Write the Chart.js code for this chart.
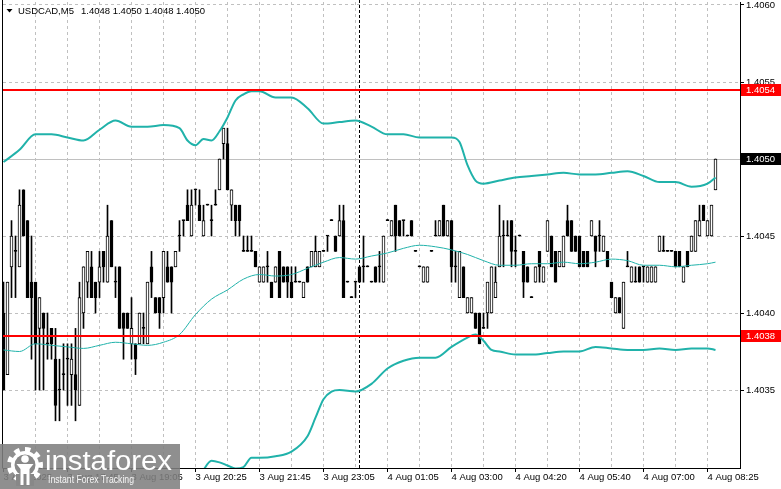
<!DOCTYPE html>
<html>
<head>
<meta charset="utf-8">
<title>USDCAD,M5</title>
<script src="https://cdn.jsdelivr.net/npm/chart.js@4.4.0/dist/chart.umd.min.js"></script>
<style>
  html, body { margin: 0; padding: 0; background: #fff; }
  #chart { display: block; }
</style>
</head>
<body>
<canvas id="chart" width="781" height="489"></canvas>
<script>
// USDCAD M5 - candles (prices move in whole pips)
const symbol = 'USDCAD,M5';
const lastQuote = ['1.4048', '1.4050', '1.4048', '1.4050'];

const opens = [
  1.4040, 1.4036, 1.4043, 1.4044, 1.4043, 1.4048, 1.4046, 1.4042, 1.4042, 1.4039,
  1.4040, 1.4038, 1.4039, 1.4037, 1.4035, 1.4036, 1.4037, 1.4036, 1.4036, 1.4034,
  1.4040, 1.4042, 1.4043, 1.4042, 1.4042, 1.4044, 1.4042, 1.4046, 1.4042, 1.4043,
  1.4040, 1.4040, 1.4038, 1.4038, 1.4038, 1.4039, 1.4038, 1.4043, 1.4041, 1.4041,
  1.4041, 1.4043, 1.4043, 1.4043, 1.4045, 1.4046, 1.4047, 1.4045, 1.4048, 1.4047,
  1.4045, 1.4047, 1.4046, 1.4047, 1.4048, 1.4051, 1.4051, 1.4047, 1.4047, 1.4047,
  1.4044, 1.4044, 1.4044, 1.4044, 1.4042, 1.4042, 1.4043, 1.4042, 1.4042, 1.4044,
  1.4043, 1.4043, 1.4042, 1.4042, 1.4042, 1.4041, 1.4043, 1.4043, 1.4043, 1.4043,
  1.4044, 1.4045, 1.4046, 1.4045, 1.4045, 1.4046, 1.4042, 1.4041, 1.4042, 1.4043,
  1.4043, 1.4043, 1.4042, 1.4043, 1.4043, 1.4042, 1.4046, 1.4045, 1.4047, 1.4046,
  1.4046, 1.4045, 1.4046, 1.4044, 1.4043, 1.4042, 1.4042, 1.4044, 1.4045, 1.4045,
  1.4047, 1.4045, 1.4046, 1.4043, 1.4041, 1.4043, 1.4040, 1.4040, 1.4040, 1.4040,
  1.4039, 1.4040, 1.4040, 1.4041, 1.4043, 1.4045, 1.4045, 1.4046, 1.4044, 1.4045,
  1.4044, 1.4043, 1.4041, 1.4042, 1.4044, 1.4042, 1.4044, 1.4045, 1.4044, 1.4043,
  1.4043, 1.4046, 1.4046, 1.4045, 1.4045, 1.4044, 1.4044, 1.4045, 1.4045, 1.4045,
  1.4044, 1.4044, 1.4042, 1.4040, 1.4041, 1.4039, 1.4043, 1.4042, 1.4042, 1.4043,
  1.4043, 1.4042, 1.4042, 1.4042, 1.4044, 1.4044, 1.4044, 1.4044, 1.4044, 1.4044,
  1.4042, 1.4044, 1.4044, 1.4044, 1.4045, 1.4047, 1.4045, 1.4045, 1.4048
];
const highs = [
  1.4042, 1.4042, 1.4046, 1.4045, 1.4048, 1.4048, 1.4046, 1.4045, 1.4042, 1.4041,
  1.4040, 1.4040, 1.4039, 1.4039, 1.4037, 1.4038, 1.4038, 1.4038, 1.4039, 1.4042,
  1.4043, 1.4044, 1.4044, 1.4042, 1.4044, 1.4044, 1.4047, 1.4046, 1.4043, 1.4043,
  1.4040, 1.4040, 1.4041, 1.4038, 1.4040, 1.4040, 1.4042, 1.4044, 1.4041, 1.4041,
  1.4044, 1.4044, 1.4043, 1.4044, 1.4046, 1.4046, 1.4048, 1.4048, 1.4048, 1.4048,
  1.4047, 1.4047, 1.4047, 1.4048, 1.4050, 1.4052, 1.4052, 1.4048, 1.4047, 1.4047,
  1.4045, 1.4045, 1.4045, 1.4044, 1.4043, 1.4043, 1.4044, 1.4042, 1.4043, 1.4044,
  1.4043, 1.4043, 1.4043, 1.4043, 1.4042, 1.4042, 1.4043, 1.4044, 1.4045, 1.4044,
  1.4044, 1.4045, 1.4046, 1.4045, 1.4047, 1.4047, 1.4042, 1.4041, 1.4042, 1.4043,
  1.4045, 1.4043, 1.4042, 1.4043, 1.4044, 1.4045, 1.4046, 1.4046, 1.4047, 1.4046,
  1.4046, 1.4045, 1.4046, 1.4044, 1.4043, 1.4043, 1.4043, 1.4044, 1.4046, 1.4046,
  1.4047, 1.4046, 1.4046, 1.4044, 1.4044, 1.4043, 1.4041, 1.4041, 1.4040, 1.4040,
  1.4040, 1.4042, 1.4043, 1.4043, 1.4047, 1.4046, 1.4046, 1.4046, 1.4045, 1.4045,
  1.4044, 1.4043, 1.4041, 1.4043, 1.4044, 1.4043, 1.4046, 1.4045, 1.4044, 1.4044,
  1.4045, 1.4047, 1.4046, 1.4045, 1.4045, 1.4044, 1.4044, 1.4046, 1.4045, 1.4046,
  1.4045, 1.4044, 1.4042, 1.4041, 1.4041, 1.4042, 1.4044, 1.4043, 1.4043, 1.4043,
  1.4043, 1.4043, 1.4043, 1.4043, 1.4045, 1.4045, 1.4044, 1.4044, 1.4044, 1.4044,
  1.4043, 1.4044, 1.4045, 1.4046, 1.4047, 1.4047, 1.4046, 1.4047, 1.4050
];
const lows = [
  1.4035, 1.4036, 1.4041, 1.4041, 1.4043, 1.4045, 1.4041, 1.4037, 1.4035, 1.4035,
  1.4035, 1.4037, 1.4037, 1.4033, 1.4033, 1.4035, 1.4034, 1.4034, 1.4033, 1.4034,
  1.4039, 1.4041, 1.4041, 1.4040, 1.4041, 1.4042, 1.4042, 1.4043, 1.4041, 1.4039,
  1.4037, 1.4039, 1.4037, 1.4036, 1.4038, 1.4038, 1.4038, 1.4041, 1.4040, 1.4039,
  1.4040, 1.4042, 1.4040, 1.4043, 1.4044, 1.4045, 1.4046, 1.4045, 1.4047, 1.4046,
  1.4045, 1.4047, 1.4045, 1.4047, 1.4048, 1.4050, 1.4048, 1.4046, 1.4045, 1.4045,
  1.4044, 1.4044, 1.4044, 1.4043, 1.4042, 1.4042, 1.4042, 1.4041, 1.4042, 1.4041,
  1.4042, 1.4041, 1.4041, 1.4042, 1.4042, 1.4041, 1.4042, 1.4043, 1.4043, 1.4043,
  1.4044, 1.4044, 1.4046, 1.4044, 1.4045, 1.4041, 1.4042, 1.4041, 1.4041, 1.4042,
  1.4042, 1.4043, 1.4042, 1.4042, 1.4042, 1.4042, 1.4046, 1.4045, 1.4044, 1.4045,
  1.4045, 1.4045, 1.4045, 1.4044, 1.4043, 1.4042, 1.4042, 1.4044, 1.4045, 1.4045,
  1.4045, 1.4045, 1.4042, 1.4042, 1.4041, 1.4041, 1.4040, 1.4040, 1.4039, 1.4038,
  1.4039, 1.4039, 1.4040, 1.4041, 1.4043, 1.4043, 1.4045, 1.4043, 1.4043, 1.4045,
  1.4041, 1.4042, 1.4041, 1.4042, 1.4042, 1.4042, 1.4044, 1.4043, 1.4042, 1.4043,
  1.4043, 1.4045, 1.4044, 1.4044, 1.4043, 1.4043, 1.4043, 1.4045, 1.4043, 1.4044,
  1.4044, 1.4043, 1.4041, 1.4040, 1.4040, 1.4039, 1.4043, 1.4042, 1.4042, 1.4042,
  1.4042, 1.4042, 1.4042, 1.4042, 1.4044, 1.4044, 1.4044, 1.4044, 1.4043, 1.4043,
  1.4042, 1.4043, 1.4044, 1.4044, 1.4045, 1.4046, 1.4045, 1.4045, 1.4048
];
const closes = [
  1.4035, 1.4042, 1.4045, 1.4044, 1.4047, 1.4045, 1.4041, 1.4041, 1.4038, 1.4041,
  1.4039, 1.4038, 1.4038, 1.4034, 1.4035, 1.4036, 1.4037, 1.4037, 1.4035, 1.4041,
  1.4043, 1.4044, 1.4041, 1.4041, 1.4043, 1.4043, 1.4045, 1.4043, 1.4042, 1.4039,
  1.4039, 1.4039, 1.4039, 1.4037, 1.4040, 1.4039, 1.4042, 1.4042, 1.4040, 1.4040,
  1.4044, 1.4042, 1.4042, 1.4044, 1.4045, 1.4046, 1.4046, 1.4047, 1.4048, 1.4046,
  1.4046, 1.4047, 1.4046, 1.4047, 1.4050, 1.4052, 1.4048, 1.4048, 1.4046, 1.4046,
  1.4044, 1.4044, 1.4044, 1.4043, 1.4043, 1.4043, 1.4043, 1.4041, 1.4043, 1.4041,
  1.4042, 1.4042, 1.4041, 1.4042, 1.4042, 1.4042, 1.4042, 1.4044, 1.4044, 1.4044,
  1.4044, 1.4045, 1.4046, 1.4044, 1.4046, 1.4041, 1.4042, 1.4041, 1.4042, 1.4042,
  1.4043, 1.4043, 1.4042, 1.4042, 1.4043, 1.4045, 1.4046, 1.4046, 1.4045, 1.4045,
  1.4046, 1.4045, 1.4045, 1.4044, 1.4043, 1.4043, 1.4043, 1.4044, 1.4045, 1.4046,
  1.4045, 1.4046, 1.4043, 1.4043, 1.4044, 1.4041, 1.4041, 1.4041, 1.4039, 1.4038,
  1.4039, 1.4042, 1.4043, 1.4042, 1.4045, 1.4045, 1.4045, 1.4044, 1.4044, 1.4045,
  1.4042, 1.4042, 1.4041, 1.4043, 1.4043, 1.4043, 1.4046, 1.4043, 1.4042, 1.4044,
  1.4045, 1.4045, 1.4044, 1.4044, 1.4043, 1.4043, 1.4043, 1.4046, 1.4044, 1.4045,
  1.4045, 1.4043, 1.4041, 1.4041, 1.4040, 1.4042, 1.4043, 1.4043, 1.4042, 1.4042,
  1.4043, 1.4043, 1.4043, 1.4043, 1.4045, 1.4044, 1.4044, 1.4044, 1.4043, 1.4043,
  1.4043, 1.4043, 1.4045, 1.4046, 1.4046, 1.4046, 1.4046, 1.4047, 1.4050
];

// Bollinger bands, sampled along the bars (bar index -> price)
const upperBars = [0, 4, 8, 12, 16, 20, 24, 28, 32, 36, 40, 44, 46, 48, 50, 52, 54, 56, 58, 60,
  62, 64, 68, 72, 76, 80, 84, 88, 92, 96, 100, 104, 108, 112, 114, 116, 118, 120, 124, 128,
  132, 136, 140, 144, 148, 152, 156, 160, 164, 168, 172, 176, 178];
const upperBand = [1.40498, 1.40506, 1.40516, 1.40516, 1.40514, 1.40512, 1.40519, 1.40525, 1.40521, 1.40521,
  1.40522, 1.40520, 1.40512, 1.40509, 1.40513, 1.40512, 1.40518, 1.40527, 1.40538, 1.40542,
  1.40544, 1.40544, 1.40540, 1.40540, 1.40533, 1.40523, 1.40524, 1.40525, 1.40521, 1.40516,
  1.40516, 1.40514, 1.40514, 1.40514, 1.40511, 1.40496, 1.40486, 1.40484, 1.40486, 1.40488,
  1.40489, 1.40490, 1.40491, 1.40490, 1.40490, 1.40491, 1.40492, 1.40489, 1.40485, 1.40485,
  1.40482, 1.40484, 1.40488];

const middleBars = [0, 4, 8, 12, 16, 20, 24, 28, 32, 36, 40, 44, 48, 52, 56, 60, 64, 68, 72, 76,
  80, 84, 88, 92, 96, 100, 104, 108, 112, 116, 120, 124, 128, 132, 136, 140, 144, 148, 152, 156,
  160, 164, 168, 172, 176, 178];
const middleBand = [1.40376, 1.40375, 1.40380, 1.40379, 1.40378, 1.40377, 1.40379, 1.40381, 1.40380, 1.40379,
  1.40381, 1.40386, 1.40399, 1.40409, 1.40415, 1.40422, 1.40425, 1.40424, 1.40425, 1.40429,
  1.40433, 1.40436, 1.40435, 1.40437, 1.40439, 1.40442, 1.40444, 1.40443, 1.40441, 1.40438,
  1.40434, 1.40431, 1.40431, 1.40432, 1.40432, 1.40433, 1.40432, 1.40433, 1.40435, 1.40434,
  1.40431, 1.40431, 1.40430, 1.40431, 1.40432, 1.40433];

const lowerBars = [0, 4, 8, 12, 16, 20, 24, 28, 32, 36, 40, 44, 46, 48, 50, 52, 54, 56, 58, 60,
  62, 64, 68, 72, 76, 78, 80, 82, 84, 88, 92, 96, 100, 104, 108, 112, 116, 118, 120, 122,
  124, 128, 132, 136, 140, 144, 148, 152, 156, 160, 164, 168, 172, 176, 178];
const lowerBand = [1.40254, 1.40244, 1.40244, 1.40243, 1.40242, 1.40243, 1.40240, 1.40236, 1.40238, 1.40236,
  1.40239, 1.40253, 1.40272, 1.40288, 1.40298, 1.40304, 1.40303, 1.40301, 1.40299, 1.40300,
  1.40306, 1.40306, 1.40307, 1.40310, 1.40320, 1.40332, 1.40344, 1.40349, 1.40350, 1.40349,
  1.40354, 1.40364, 1.40369, 1.40371, 1.40371, 1.40378, 1.40384, 1.40386, 1.40382, 1.40376,
  1.40375, 1.40373, 1.40373, 1.40374, 1.40375, 1.40375, 1.40378, 1.40377, 1.40376, 1.40376,
  1.40377, 1.40376, 1.40377, 1.40377, 1.40376];

// axis text
const timeLabels = ['3 Aug 2025', '3 Aug 17:45', '3 Aug 19:05', '3 Aug 20:25', '3 Aug 21:45', '3 Aug 23:05',
  '4 Aug 01:05', '4 Aug 03:00', '4 Aug 04:20', '4 Aug 05:40', '4 Aug 07:00', '4 Aug 08:25'];
const barsPerLabel = 16;
const barsPerGrid = 8;
const priceTicks = [1.4035, 1.4040, 1.4045, 1.4050, 1.4055, 1.4060];

// levels drawn on the chart
const levelValues = [1.40545, 1.40385];
const levelLabels = ['1.4054', '1.4038'];
const currentPrice = 1.4050;
const daySeparator = 89;

const TEAL = '#20b2aa';
const FONT = '"Liberation Sans", Arial, sans-serif';

const idx = opens.map((_, i) => i);
const wickData = idx.map(i => ({ x: i, y: [lows[i], highs[i]] }));
const bodyData = idx.map(i => ({ x: i, y: [opens[i], closes[i]] }));
const bodyFill = idx.map(i => closes[i] > opens[i] ? '#ffffff' : '#000000');
const toPoints = (bars, vals) => bars.map((b, i) => ({ x: b, y: vals[i] }));

// no label overhang padding, the frame is fixed like the terminal's
const noPad = s => { s.paddingTop = 0; s.paddingBottom = 0; s.paddingLeft = 0; s.paddingRight = 0; };

function drawGear(ctx, cx, cy, rOut, rIn, teeth) {
  const step = Math.PI / teeth;
  ctx.beginPath();
  for (let i = 0; i < teeth * 2; i++) {
    const r = i % 2 === 0 ? rOut : rIn;
    ctx.arc(cx, cy, r, i * step - Math.PI / 2, (i + 1) * step - Math.PI / 2);
  }
  ctx.closePath();
  ctx.fill();
}

const overlays = {
  id: 'overlays',
  beforeDatasetsDraw(chart) {
    const { ctx, chartArea: a, scales: { x, y } } = chart;
    ctx.save();
    ctx.lineWidth = 1;
    // bid line
    const py = Math.floor(y.getPixelForValue(currentPrice)) + 0.5;
    ctx.strokeStyle = '#c0c0c0';
    ctx.beginPath(); ctx.moveTo(a.left, py); ctx.lineTo(a.right, py); ctx.stroke();
    // period separator
    const sx = Math.floor(x.getPixelForValue(daySeparator)) + 0.5;
    ctx.strokeStyle = '#000';
    ctx.setLineDash([3, 2]);
    ctx.beginPath(); ctx.moveTo(sx, 0); ctx.lineTo(sx, a.bottom); ctx.stroke();
    ctx.restore();
  },
  afterDatasetsDraw(chart) {
    const { ctx, chartArea: a, scales: { y } } = chart;
    ctx.save();
    ctx.strokeStyle = '#ff0000';
    ctx.lineWidth = 2;
    levelValues.forEach(v => {
      const py = Math.round(y.getPixelForValue(v));
      ctx.beginPath(); ctx.moveTo(a.left, py); ctx.lineTo(a.right, py); ctx.stroke();
    });
    ctx.restore();
  },
  afterDraw(chart) {
    const { ctx, chartArea: a, scales: { y } } = chart;
    ctx.save();
    // left frame line
    ctx.strokeStyle = '#000';
    ctx.lineWidth = 1;
    ctx.beginPath(); ctx.moveTo(a.left - 0.5, 0); ctx.lineTo(a.left - 0.5, a.bottom + 0.5); ctx.stroke();

    // price tags on the right scale
    ctx.font = '9.5px ' + FONT;
    ctx.textBaseline = 'middle';
    const tag = (v, text, fill) => {
      const py = Math.round(y.getPixelForValue(v));
      ctx.fillStyle = fill;
      ctx.fillRect(a.right + 1, py - 6, chart.width - a.right - 1, 12);
      ctx.fillStyle = '#ffffff';
      ctx.fillText(text, a.right + 6, py + 0.5);
    };
    levelValues.forEach((v, i) => tag(v, levelLabels[i], '#ff0000'));
    tag(currentPrice, currentPrice.toFixed(4), '#000000');

    // header
    ctx.fillStyle = '#000';
    ctx.beginPath(); ctx.moveTo(6.5, 9); ctx.lineTo(12.5, 9); ctx.lineTo(9.5, 12.5); ctx.closePath(); ctx.fill();
    ctx.fillText(symbol, 18, 11);
    ctx.fillText(lastQuote.join(' '), 81, 11);

    // watermark
    ctx.fillStyle = 'rgba(128,128,128,0.88)';
    ctx.fillRect(0, 444, 180, 45);
    ctx.fillStyle = '#ffffff';
    drawGear(ctx, 25, 465, 18, 14, 9);
    ctx.fillStyle = 'rgb(136,136,136)';
    ctx.beginPath(); ctx.arc(25, 465, 10.5, 0, Math.PI * 2); ctx.fill();
    ctx.fillRect(16, 474, 18, 12);
    ctx.fillStyle = '#ffffff';
    ctx.beginPath(); ctx.arc(25, 459, 3.8, 0, Math.PI * 2); ctx.fill();
    ctx.beginPath();
    ctx.moveTo(16.5, 464); ctx.lineTo(33.5, 464); ctx.lineTo(29.5, 469); ctx.lineTo(29.5, 485);
    ctx.lineTo(26.5, 485); ctx.lineTo(26.5, 474); ctx.lineTo(23.5, 474); ctx.lineTo(23.5, 485);
    ctx.lineTo(20.5, 485); ctx.lineTo(20.5, 469); ctx.closePath(); ctx.fill();

    ctx.textBaseline = 'alphabetic';
    ctx.font = '27px ' + FONT;
    const w1 = ctx.measureText('instaforex').width;
    ctx.save();
    ctx.translate(45, 470);
    ctx.scale(127 / w1, 1);
    ctx.fillText('instaforex', 0, 0);
    ctx.restore();
    ctx.font = '10.5px ' + FONT;
    ctx.fillStyle = 'rgba(255,255,255,0.92)';
    const w2 = ctx.measureText('Instant Forex Tracking').width;
    ctx.save();
    ctx.translate(48, 482.5);
    ctx.scale(86 / w2, 1);
    ctx.fillText('Instant Forex Tracking', 0, 0);
    ctx.restore();
    ctx.restore();
  }
};

new Chart(document.getElementById('chart'), {
  type: 'bar',
  data: {
    datasets: [
      {
        type: 'line', data: toPoints(upperBars, upperBand), borderColor: TEAL, borderWidth: 2,
        pointRadius: 0, cubicInterpolationMode: 'monotone', order: 0
      },
      {
        type: 'line', data: toPoints(middleBars, middleBand), borderColor: TEAL, borderWidth: 1,
        pointRadius: 0, cubicInterpolationMode: 'monotone', order: 0
      },
      {
        type: 'line', data: toPoints(lowerBars, lowerBand), borderColor: TEAL, borderWidth: 2,
        pointRadius: 0, cubicInterpolationMode: 'monotone', order: 0
      },
      {
        data: bodyData, barThickness: 3, backgroundColor: bodyFill, borderColor: '#000000',
        borderWidth: 1, borderSkipped: false, minBarLength: 1, grouped: false, order: 1
      },
      {
        data: wickData, barThickness: 1, backgroundColor: '#000000', borderWidth: 0,
        minBarLength: 1, grouped: false, order: 2
      }
    ]
  },
  options: {
    responsive: false,
    animation: false,
    events: [],
    layout: { padding: { left: 3, top: 2, right: 0, bottom: 0 } },
    plugins: { legend: { display: false }, tooltip: { enabled: false } },
    scales: {
      x: {
        type: 'linear',
        min: -0.125,
        max: 184.125,
        offset: false,
        afterFit: s => { s.height = 21; noPad(s); },
        afterBuildTicks: s => {
          const t = [];
          for (let v = 0; v <= 176; v += barsPerGrid) t.push({ value: v });
          s.ticks = t;
        },
        grid: {
          offset: false,
          color: c => (c.tick && c.tick.value === 0) ? 'rgba(0,0,0,0)' : '#c0c0c0',
          tickLength: 4,
          tickColor: c => (c.tick && c.tick.value % barsPerLabel === 0) ? '#000000' : 'rgba(0,0,0,0)'
        },
        border: { color: '#000000', width: 1, dash: [3, 3] },
        ticks: {
          autoSkip: false,
          maxRotation: 0,
          align: 'start',
          padding: 0,
          color: '#000000',
          font: { family: FONT, size: 9.5 },
          callback: v => v % barsPerLabel === 0 ? timeLabels[v / barsPerLabel] : ''
        }
      },
      y: {
        position: 'right',
        min: 1.40299351,
        max: 1.40601948,
        beginAtZero: false,
        afterFit: s => { s.width = 41; noPad(s); },
        afterBuildTicks: s => { s.ticks = priceTicks.map(v => ({ value: v })); },
        grid: { color: '#c0c0c0', tickLength: 4, tickColor: '#000000' },
        border: { color: '#000000', width: 1, dash: [3, 3] },
        ticks: {
          padding: 2,
          color: '#000000',
          font: { family: FONT, size: 9.5 },
          callback: v => v.toFixed(4)
        }
      }
    }
  },
  plugins: [overlays]
});
</script>
</body>
</html>
